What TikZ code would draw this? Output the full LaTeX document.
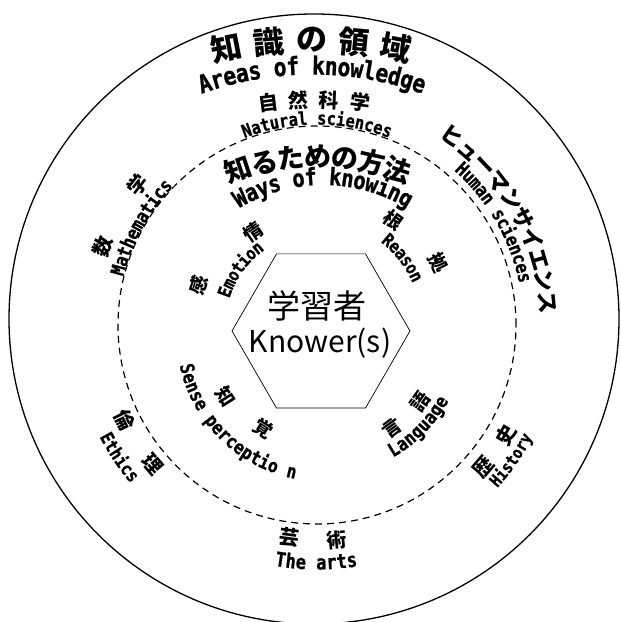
\documentclass[tikz,border=0pt]{standalone}
\usepackage{fontspec}
\setmainfont{Noto Sans CJK JP}
\newfontfamily\jpf{Noto Sans CJK JP}
\newfontfamily\enf[FakeStretch=0.85, FakeBold=1]{DejaVu Sans Mono}
\usetikzlibrary{decorations.text}
\newcommand\fsz[1]{\fontsize{#1}{#1}\selectfont}
\tikzset{
  jp/.style={font=\jpf\bfseries\fsz{#1}, inner sep=0pt},
  ring/.style={line width=1.3pt},
  dring/.style={line width=1.2pt, dash pattern=on 7pt off 5pt},
  hexline/.style={line width=0.7pt},
}
\begin{document}
\begin{tikzpicture}[x=1pt,y=1pt]
\useasboundingbox (0,0) rectangle (621,622);
\fill[white] (0,0) rectangle (621,622);
\coordinate (C) at (317,297);
\coordinate (H) at (321,291);
\coordinate (SP) at (323,287);
\coordinate (O1) at (312,132);
\coordinate (O2) at (312,222);
\coordinate (O3) at (314,165.5);
\coordinate (O5) at (318,215);
\coordinate (O6) at (323,274);

% circles and hexagon
\draw[ring] (314,303) circle[radius=305];
\draw[dring] (C) circle[radius=199];
\draw[hexline] (410,291) -- (365.5,368.1) -- (276.5,368.1) -- (232,291) -- (276.5,213.9) -- (365.5,213.9) -- cycle;

% centre
\node[font=\jpf\fsz{33}, inner sep=0pt] (learner) at (317,316) {学習者};
\node[font=\jpf\fsz{30}, inner sep=0pt] (knower) at (320,279) {Knower(s)};

% Areas of knowledge (top)
\foreach \a/\c [count=\i] in {100.95/知,95.48/識,90/の,84.65/領,79.3/域}
  \node[jp=31, rotate=\a-90] (aok\i) at ([shift={(\a:450)}]O1) {\c};
\path[decorate, decoration={text along path, text align=center, raise=-7.5pt,
  text={|\enf\bfseries\fsz{25}|Areas of knowledge}}]
  (O2) ++(125:333) arc[start angle=125, end angle=55, radius=333];

% Natural sciences
\foreach \a/\c [count=\i] in {97.4/自,92.6/然,87.6/科,82.6/学}
  \node[jp=20, rotate=\a-90] (ns\i) at ([shift={(\a:357)}]O3) {\c};
\path[decorate, decoration={text along path, text align=center, raise=1.5pt,
  text={|\enf\bfseries\fsz{18}|Natural sciences}}]
  (C) ++(140:199) arc[start angle=140, end angle=40, radius=199];

% Ways of knowing
\path[decorate, decoration={text along path, text align=center, raise=-10pt,
  text={|\jpf\bfseries\fsz{27}|知るための方法}}]
  (O5) ++(140:250) arc[start angle=140, end angle=40, radius=250];
\path[decorate, decoration={text along path, text align=center, raise=-7pt,
  text={|\enf\bfseries\fsz{24}|Ways of knowing}}]
  (O6) ++(160:170) arc[start angle=160, end angle=20, radius=170];

% Mathematics
\node[jp=20, rotate=70] (ma1) at (103,375) {数};
\node[jp=20, rotate=52] (ma2) at (138,437) {学};
\path[decorate, decoration={text along path, text align=center, raise=-5.5pt,
  text={|\enf\bfseries\fsz{19}|Mathematics}}]
  (C) ++(191:205) arc[start angle=191, end angle=111, radius=205];

% Human sciences
\path[decorate, decoration={text along path, text align=center, raise=-8.5pt,
  text={|\jpf\bfseries\fsz{22}|ヒューマンサイエンス}}]
  (C) ++(75:232) arc[start angle=75, end angle=-15, radius=232];
\path[decorate, decoration={text along path, text align=center, raise=-5.5pt,
  text={|\enf\bfseries\fsz{19}|Human sciences}}]
  (C) ++(70:212) arc[start angle=70, end angle=-10, radius=212];

% Reason
\node[jp=19, rotate=-36] (re1) at (393,402) {根};
\node[jp=19, rotate=-63] (re2) at (438,359) {拠};
\path[decorate, decoration={text along path, text align=center, raise=-5.5pt,
  text={|\enf\bfseries\fsz{18}|Reason}}]
  (C) ++(80:110) arc[start angle=80, end angle=-4, radius=110];

% Emotion
\node[jp=19, rotate=71.4] (em1) at (198,337) {感};
\node[jp=19, rotate=34.5] (em2) at (253,390) {情};
\path[decorate, decoration={text along path, text align=center, raise=-5.5pt,
  text={|\enf\bfseries\fsz{18}|Emotion}}]
  (C) ++(184:97) arc[start angle=184, end angle=104, radius=97];

% Sense perception
\node[jp=19, rotate=-57.4] (sp1) at (226,225) {知};
\node[jp=19, rotate=-32.5] (sp2) at (263,193) {覚};
\path[decorate, decoration={text along path, text align=center, raise=-5.5pt,
  text={|\enf\bfseries\fsz{19}|Sense perceptio n}}]
  (SP) ++(170:141) arc[start angle=170, end angle=281, radius=141];

% Language
\node[jp=19, rotate=36.2] (la1) at (392,194) {言};
\node[jp=19, rotate=54.4] (la2) at (420,220) {語};
\path[decorate, decoration={text along path, text align=center, raise=-5.5pt,
  text={|\enf\bfseries\fsz{19}|Language}}]
  (H) ++(275:140) arc[start angle=275, end angle=356, radius=140];

% Ethics
\node[jp=20, rotate=-63.7] (et1) at (125,202) {倫};
\node[jp=20, rotate=-49.7] (et2) at (153,158) {理};
\path[decorate, decoration={text along path, text align=center, raise=-5.5pt,
  text={|\enf\bfseries\fsz{18}|Ethics}}]
  (C) ++(180:239) arc[start angle=180, end angle=247.6, radius=239];

% History
\node[jp=20, rotate=49.5] (hi1) at (483,155) {歴};
\node[jp=20, rotate=59.8] (hi2) at (506,187) {史};
\path[decorate, decoration={text along path, text align=center, raise=-5.5pt,
  text={|\enf\bfseries\fsz{17}|History}}]
  (C) ++(290:237.6) arc[start angle=290, end angle=360.4, radius=237.6];

% The arts
\node[jp=20, rotate=-7.5] (ar1) at (289,85) {芸};
\node[jp=20, rotate=5.3] (ar2) at (337,82) {術};
\path[decorate, decoration={text along path, text align=center, raise=-5.5pt,
  text={|\enf\bfseries\fsz{20}|The arts}}]
  (C) ++(230:239) arc[start angle=230, end angle=309.6, radius=239];
\end{tikzpicture}
\end{document}
